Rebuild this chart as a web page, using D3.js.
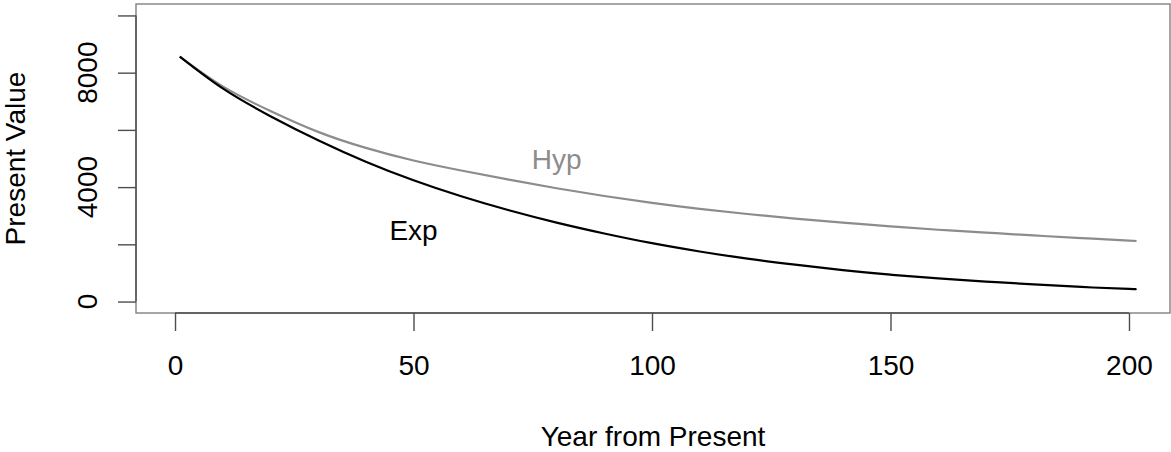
<!DOCTYPE html>
<html>
<head>
<meta charset="utf-8">
<script src="https://cdn.jsdelivr.net/npm/d3@7"></script>
<style>
    html, body { margin: 0; padding: 0; background: #fff; }
    text { font-family: "Liberation Sans", Arial, Helvetica, sans-serif; }
</style>
</head>
<body>
<div id="chart"></div>
<script>
// Years
const years = [1, 10, 20, 30, 40, 50, 60, 70, 80, 90, 100, 110, 120, 130, 140, 150, 160, 170, 180, 190, 200, 201];

// Present value, exponential discounting (black line)
const expValues = [8560, 7450, 6480, 5640, 4890, 4240, 3680, 3190, 2760, 2380, 2040, 1750, 1500, 1290, 1100, 940, 810, 700, 600, 510, 440, 435];

// Present value, hyperbolic discounting (grey line)
const hypValues = [8560, 7520, 6660, 5930, 5370, 4930, 4580, 4260, 3960, 3690, 3450, 3240, 3060, 2900, 2760, 2630, 2510, 2410, 2310, 2220, 2130, 2120];

const xTicks = [0, 50, 100, 150, 200];
const yTicks = [0, 2000, 4000, 6000, 8000, 10000];
const yTickLabels = ["0", "", "4000", "", "8000", ""];

// Text labels placed in the plot (x, y in data units)
const curveLabels = [
    { text: "Hyp", x: 80, y: 5000, color: "#8c8c8c" },
    { text: "Exp", x: 50, y: 2500, color: "#000" }
];

document.addEventListener("DOMContentLoaded", function () {
    const svgWidth = 1171, svgHeight = 452;
    const plot = { left: 136, right: 1170, top: 4, bottom: 313 };
    const fontSize = 28;

    const svg = d3.select("#chart")
        .append("svg")
        .attr("width", svgWidth)
        .attr("height", svgHeight);

    // Scales (R style: 4% padding around data range)
    const xScale = d3.scaleLinear()
        .domain([-8.18, 208.6])
        .range([plot.left, plot.right]);

    const yScale = d3.scaleLinear()
        .domain([-400, 10400])
        .range([plot.bottom, plot.top]);

    // Box around the plot region
    svg.append("rect")
        .attr("x", plot.left)
        .attr("y", plot.top)
        .attr("width", plot.right - plot.left)
        .attr("height", plot.bottom - plot.top)
        .attr("fill", "none")
        .attr("stroke", "#808080")
        .attr("stroke-width", 1.4);

    // X axis
    const xAxis = svg.append("g")
        .attr("transform", `translate(0, ${plot.bottom})`)
        .call(d3.axisBottom(xScale)
            .tickValues(xTicks)
            .tickSize(18)
            .tickSizeOuter(0)
            .tickPadding(24)
            .tickFormat(d3.format("d")));
    xAxis.select(".domain")
        .attr("d", `M${xScale(xTicks[0])},0H${xScale(xTicks[xTicks.length - 1])}`);
    xAxis.selectAll("path, line").attr("stroke", "#4d4d4d").attr("stroke-width", 1.4);
    xAxis.selectAll("text")
        .attr("font-size", fontSize)
        .attr("font-family", "Liberation Sans, Arial, sans-serif")
        .attr("fill", "#000");

    // Y axis (lines only, labels rotated below)
    const yAxis = svg.append("g")
        .attr("transform", `translate(${plot.left}, 0)`)
        .call(d3.axisLeft(yScale)
            .tickValues(yTicks)
            .tickSize(18)
            .tickSizeOuter(0)
            .tickFormat(""));
    yAxis.select(".domain")
        .attr("d", `M0,${yScale(yTicks[0])}V${yScale(yTicks[yTicks.length - 1])}`);
    yAxis.selectAll("path, line").attr("stroke", "#4d4d4d").attr("stroke-width", 1.4);

    svg.append("g")
        .selectAll("text")
        .data(yTicks)
        .enter()
        .append("text")
        .attr("transform", d => `translate(97, ${yScale(d)}) rotate(-90)`)
        .attr("text-anchor", "middle")
        .attr("font-size", fontSize)
        .attr("fill", "#000")
        .text((d, i) => yTickLabels[i]);

    // Lines
    const line = d3.line()
        .x(d => xScale(d[0]))
        .y(d => yScale(d[1]))
        .curve(d3.curveNatural);

    svg.append("path")
        .datum(years.map((t, i) => [t, hypValues[i]]))
        .attr("d", line)
        .attr("fill", "none")
        .attr("stroke", "#8c8c8c")
        .attr("stroke-width", 2.2);

    svg.append("path")
        .datum(years.map((t, i) => [t, expValues[i]]))
        .attr("d", line)
        .attr("fill", "none")
        .attr("stroke", "#000")
        .attr("stroke-width", 2.2);

    // Curve labels
    svg.selectAll(".curve-label")
        .data(curveLabels)
        .enter()
        .append("text")
        .attr("class", "curve-label")
        .attr("x", d => xScale(d.x))
        .attr("y", d => yScale(d.y))
        .attr("dy", "0.36em")
        .attr("text-anchor", "middle")
        .attr("font-size", fontSize)
        .attr("fill", d => d.color)
        .text(d => d.text);

    // Axis titles
    svg.append("text")
        .attr("x", (plot.left + plot.right) / 2)
        .attr("y", 446)
        .attr("text-anchor", "middle")
        .attr("font-size", fontSize)
        .attr("fill", "#000")
        .text("Year from Present");

    svg.append("text")
        .attr("transform", `translate(25, ${(plot.top + plot.bottom) / 2}) rotate(-90)`)
        .attr("text-anchor", "middle")
        .attr("font-size", fontSize)
        .attr("fill", "#000")
        .text("Present Value");
});
</script>
</body>
</html>
